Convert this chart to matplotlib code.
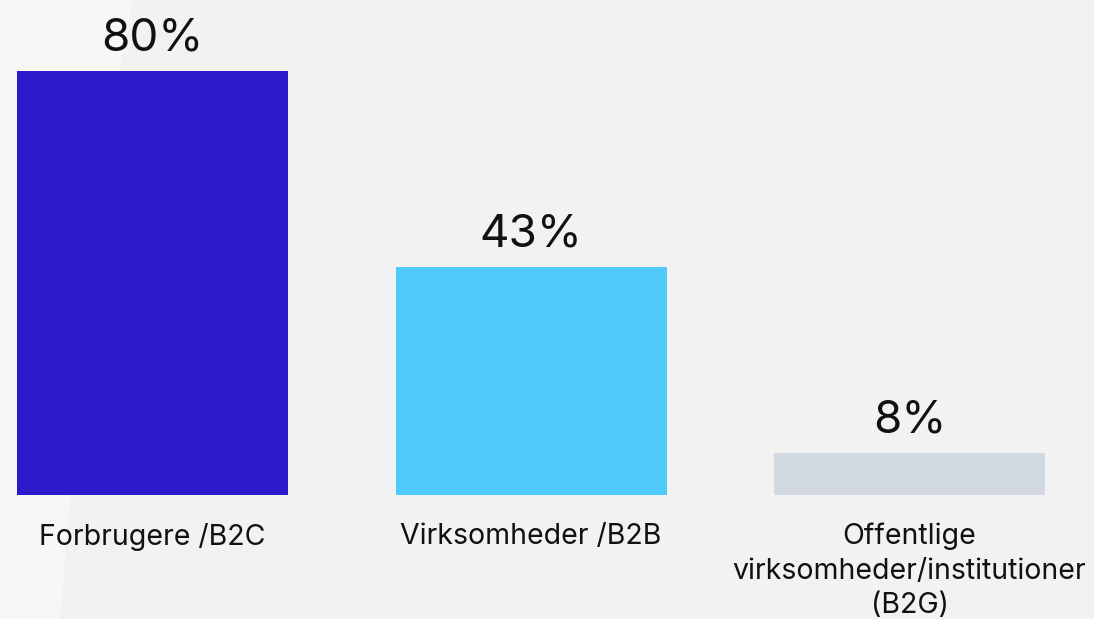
import matplotlib
matplotlib.use("Agg")
import matplotlib.pyplot as plt
from matplotlib.patches import Polygon

categories = ["Forbrugere /B2C", "Virksomheder /B2B",
              "Offentlige\nvirksomheder/institutioner\n(B2G)"]
values = [80, 43, 8]
value_labels = ["80%", "43%", "8%"]
colors = ["#2C19CC", "#50CAFA", "#D3D9E1"]

plt.rcParams['font.family'] = ['Inter', 'DejaVu Sans']

W, H = 1094, 619
fig = plt.figure(figsize=(W / 100, H / 100), dpi=100)
fig.patch.set_facecolor("#F2F2F2")

# subtle lighter region on the left of the background
bg = fig.add_axes([0, 0, 1, 1])
bg.set_xlim(0, W)
bg.set_ylim(H, 0)
bg.axis("off")
bg.add_patch(Polygon([[0, 0], [133, 0], [95, 200], [60, 619], [0, 619]],
                     closed=True, facecolor="#F7F7F7", edgecolor="none"))

ax = fig.add_axes([0, 0, 1, 1])
ax.patch.set_alpha(0)
px_per_unit = 378.5
x0 = 152.5
ax.set_xlim(-x0 / px_per_unit, (W - x0) / px_per_unit)
py = 5.3
ax.set_ylim(-(H - 495) / py, 495 / py)
ax.axis("off")

xs = list(range(len(values)))
ax.bar(xs, values, width=271 / px_per_unit, color=colors, edgecolor="none")

for x, v, lab in zip(xs, values, value_labels):
    ax.annotate(lab, (x, v), xytext=(0, 8), textcoords="offset points",
                ha="center", va="bottom", fontsize=33, color="#111111")

for x, c in zip(xs, categories):
    ax.annotate(c, (x, 0), xytext=(0, -20), textcoords="offset points",
                ha="center", va="top", fontsize=20.5, color="#111111",
                linespacing=1.36)

fig.savefig("out.png", dpi=100, facecolor=fig.get_facecolor())
